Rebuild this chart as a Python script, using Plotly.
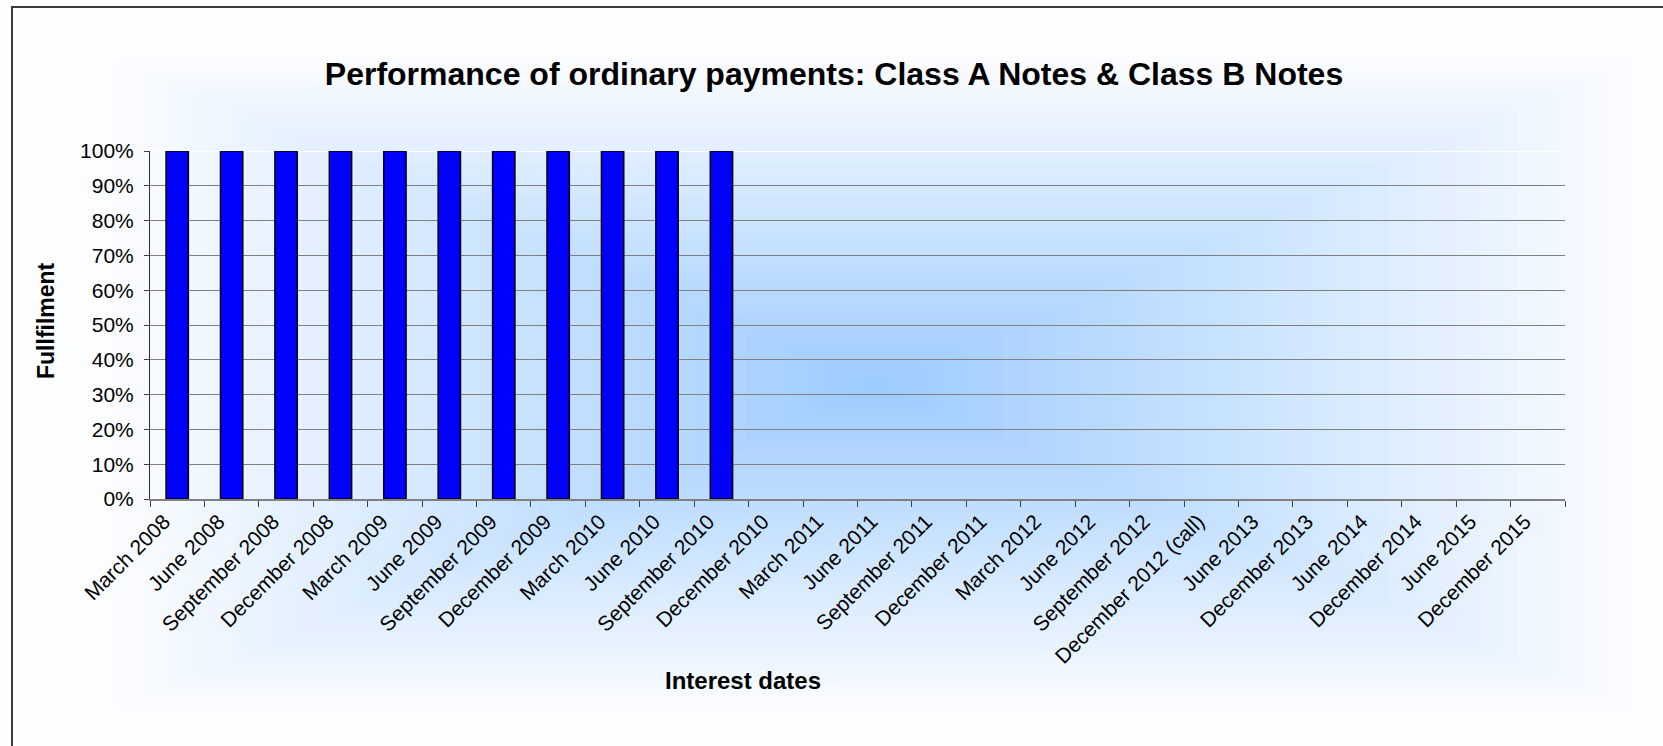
import plotly.graph_objects as go

# ---------------- data ----------------
interest_dates = [
    "March 2008", "June 2008", "September 2008", "December 2008",
    "March 2009", "June 2009", "September 2009", "December 2009",
    "March 2010", "June 2010", "September 2010", "December 2010",
    "March 2011", "June 2011", "September 2011", "December 2011",
    "March 2012", "June 2012", "September 2012", "December 2012 (call)",
    "June 2013", "December 2013", "June 2014", "December 2014",
    "June 2015", "December 2015",
]
fulfilment = [
    1.0, 1.0, 1.0, 1.0,
    1.0, 1.0, 1.0, 1.0,
    1.0, 1.0, 1.0, None,
    None, None, None, None,
    None, None, None, None,
    None, None, None, None,
    None, None,
]
y_tick_values = [0.0, 0.1, 0.2, 0.3, 0.4, 0.5, 0.6, 0.7, 0.8, 0.9, 1.0]
y_tick_labels = ["0%", "10%", "20%", "30%", "40%", "50%", "60%", "70%", "80%", "90%", "100%"]

title_text = "Performance of ordinary payments: Class A Notes & Class B Notes"
x_title = "Interest dates"
y_title = "Fullfilment"

# ---------------- layout geometry (px) ----------------
W, H = 1663, 746
L, R, T, B = 150, 98, 151, 247
PW, PH = W - L - R, H - T - B


def px_to_paper_x(px):
    return (px - L) / PW


def px_to_paper_y(py):
    return (H - B - py) / PH


FONT = "Liberation Sans, Arial, Helvetica, sans-serif"

fig = go.Figure()
fig.add_trace(go.Bar(
    x=interest_dates,
    y=fulfilment,
    marker=dict(color="#0000FF", line=dict(color="#000000", width=1.5)),
    hoverinfo="x+y",
))

# ---------------- gradient background (nested rectangles) ----------------
shapes = []
cx, cy = 875, 385
hx, hy = 770, 330
c_center = (156, 203, 255)
c_edge = (252, 253, 255)
N = 60
for k in range(N):
    s = 1 - k / N
    t = s
    col = tuple(int(round(c_center[i] + (c_edge[i] - c_center[i]) * t)) for i in range(3))
    shapes.append(dict(
        type="rect", xref="paper", yref="paper", layer="below",
        x0=px_to_paper_x(cx - s * hx), x1=px_to_paper_x(cx + s * hx),
        y0=px_to_paper_y(cy + s * hy), y1=px_to_paper_y(cy - s * hy),
        line=dict(width=0), fillcolor="rgb(%d,%d,%d)" % col,
    ))

# white top gridline at 100%
shapes.append(dict(
    type="line", xref="paper", yref="y", layer="between",
    x0=0, x1=1, y0=1.0, y1=1.0, line=dict(color="#FFFFFF", width=2),
))

# outer chart border
shapes.append(dict(
    type="rect", xref="paper", yref="paper", layer="above",
    x0=px_to_paper_x(12), x1=px_to_paper_x(1672),
    y0=px_to_paper_y(770), y1=px_to_paper_y(7),
    line=dict(color="#3A3A3A", width=2), fillcolor="rgba(0,0,0,0)",
))

annotations = [
    dict(text="<b>%s</b>" % x_title, xref="paper", yref="paper",
         x=px_to_paper_x(743), y=px_to_paper_y(680), xanchor="center", yanchor="middle",
         showarrow=False, font=dict(family=FONT, size=24, color="#000000")),
    dict(text="<b>%s</b>" % y_title, xref="paper", yref="paper", textangle=-90,
         x=px_to_paper_x(46), y=px_to_paper_y(321), xanchor="center", yanchor="middle",
         showarrow=False, font=dict(family=FONT, size=23, color="#000000")),
]

fig.update_layout(
    width=W, height=H,
    margin=dict(l=L, r=R, t=T, b=B, autoexpand=False),
    paper_bgcolor="#FDFEFF",
    plot_bgcolor="rgba(0,0,0,0)",
    bargap=0.59,
    showlegend=False,
    title=dict(
        text="<b>%s</b>" % title_text,
        x=834 / W, xref="container", xanchor="center",
        y=1 - 74 / H, yref="container", yanchor="middle",
        font=dict(family=FONT, size=32, color="#000000"),
    ),
    shapes=shapes,
    annotations=annotations,
    xaxis=dict(
        type="category",
        tickangle=-45,
        tickson="boundaries",
        ticks="outside", ticklen=6, tickcolor="#404040", tickwidth=1,
        ticklabelshift=-13,
        showline=True, linecolor="#808080", linewidth=2,
        showgrid=False, zeroline=False,
        tickfont=dict(family=FONT, size=21, color="#000000"),
        automargin=False,
    ),
    yaxis=dict(
        range=[0, 1.0],
        tickvals=y_tick_values, ticktext=y_tick_labels,
        ticks="outside", ticklen=5, tickcolor="#404040", tickwidth=1,
        ticklabelstandoff=6,
        showline=True, linecolor="#303030", linewidth=1,
        showgrid=True, gridcolor="#808080", gridwidth=1,
        zeroline=False,
        tickfont=dict(family=FONT, size=21, color="#000000"),
        automargin=False,
    ),
)

fig.write_html(
    "out.html",
    config={"displayModeBar": False},
    post_script="document.body.style.margin='0';document.body.style.overflow='hidden';",
)
